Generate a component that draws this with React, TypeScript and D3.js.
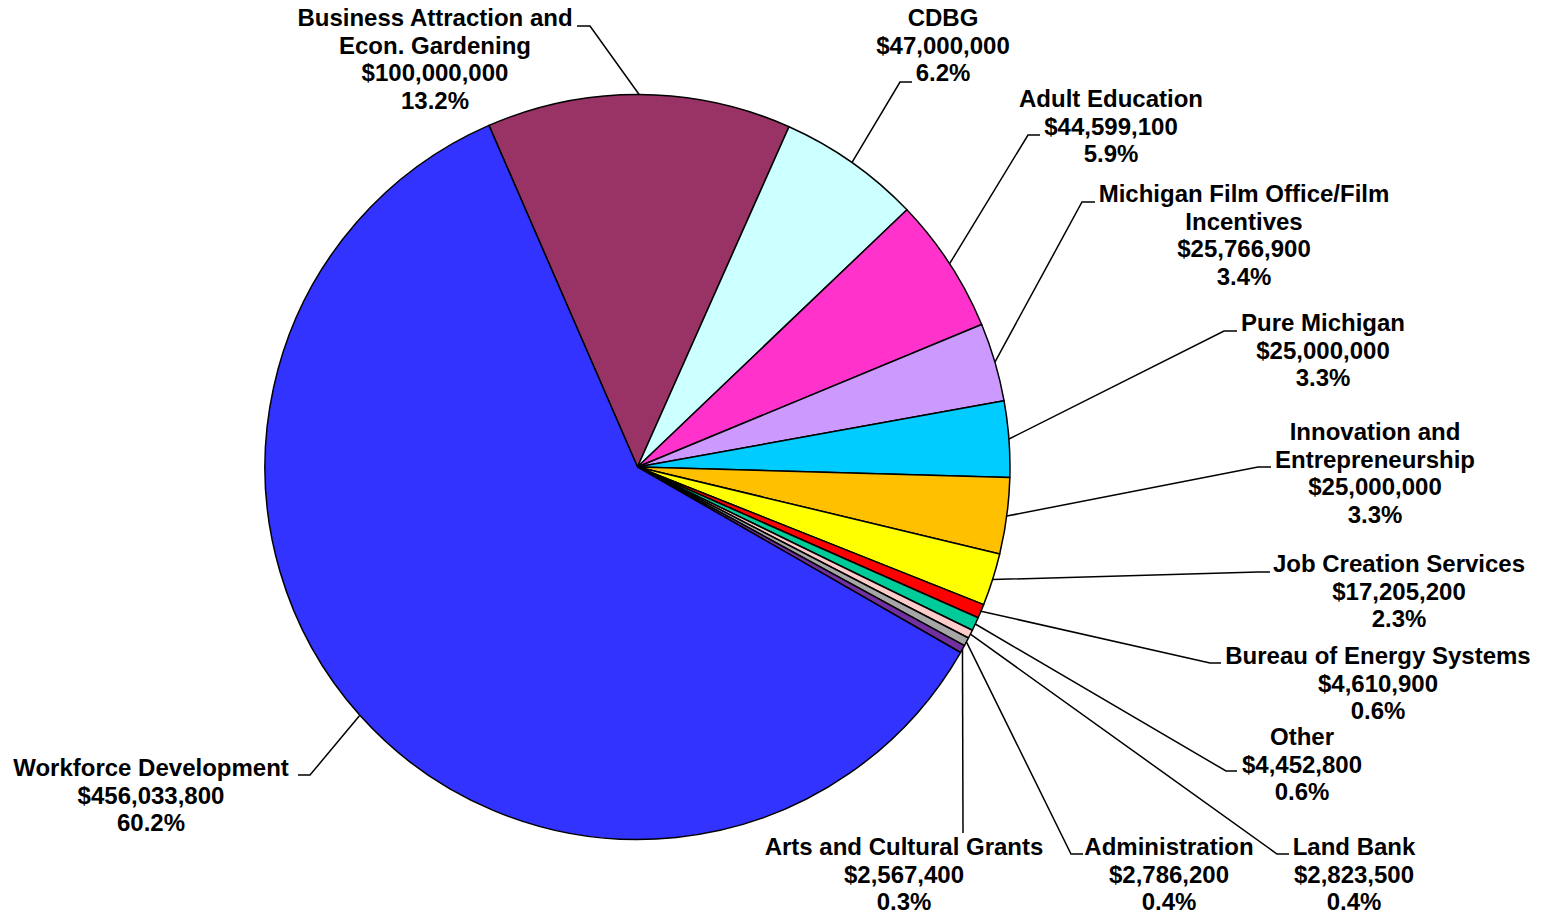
import React from "react";
import * as d3 from "d3";

const categories = [
  "Business Attraction and\nEcon. Gardening",
  "CDBG",
  "Adult Education",
  "Michigan Film Office/Film\nIncentives",
  "Pure Michigan",
  "Innovation and\nEntrepreneurship",
  "Job Creation Services",
  "Bureau of Energy Systems",
  "Other",
  "Land Bank",
  "Administration",
  "Arts and Cultural Grants",
  "Workforce Development",
];

const values = [
  100000000, 47000000, 44599100, 25766900, 25000000, 25000000, 17205200,
  4610900, 4452800, 2823500, 2786200, 2567400, 456033800,
];

const colors = [
  "#993366", "#CCFFFF", "#FF33CC", "#CC99FF", "#00CCFF", "#FFC000", "#FFFF00",
  "#FF0000", "#00CC99", "#FFCCCC", "#A6A6A6", "#7030A0", "#3333FF",
];

// label layout: text center x, first baseline y, leader elbow (ex, ey), leader end x
const labelLayout = [
  { cx: 435, by: 26, ex: 590, ey: 26, hx: 577 },
  { cx: 943, by: 26, ex: 900, ey: 82, hx: 912 },
  { cx: 1111, by: 107, ex: 1028, ey: 135, hx: 1040 },
  { cx: 1244, by: 202, ex: 1082, ey: 202, hx: 1095 },
  { cx: 1323, by: 331, ex: 1224, ey: 331, hx: 1237 },
  { cx: 1375, by: 440, ex: 1258, ey: 467, hx: 1271 },
  { cx: 1399, by: 572, ex: 1258, ey: 572, hx: 1270 },
  { cx: 1378, by: 664, ex: 1210, ey: 663, hx: 1221 },
  { cx: 1302, by: 745, ex: 1226, ey: 771, hx: 1237 },
  { cx: 1354, by: 855, ex: 1277, ey: 854, hx: 1289 },
  { cx: 1169, by: 855, ex: 1071, ey: 854, hx: 1083 },
  { cx: 904, by: 855, ex: 963, ey: 833, hx: 963 },
  { cx: 151, by: 776, ex: 310, ey: 775, hx: 298 },
];

const W = 1543;
const H = 914;
const CX = 637.5;
const CY = 467;
const R = 372.5;
const LINE = 27.5;

export default function App() {
  const total = d3.sum(values);
  const start = (-23.5 * Math.PI) / 180;
  const pie = d3
    .pie<number>()
    .sort(null)
    .startAngle(start)
    .endAngle(start + 2 * Math.PI)
    .value((d) => d);
  const arcs = pie(values);
  const arcGen = d3.arc<d3.PieArcDatum<number>>().innerRadius(0).outerRadius(R);
  const money = d3.format("$,");
  const pct = d3.format(".1%");

  return (
    <svg
      width={W}
      height={H}
      style={{ position: "absolute", left: 0, top: 0, display: "block", background: "#fff" }}
    >
      <g transform={`translate(${CX},${CY})`}>
        {arcs.map((a, i) => (
          <path
            key={i}
            d={arcGen(a) || ""}
            fill={colors[i]}
            stroke="#000"
            strokeWidth={1.5}
            strokeLinejoin="round"
          />
        ))}
      </g>
      {arcs.map((a, i) => {
        const mid = (a.startAngle + a.endAngle) / 2;
        const px = CX + Math.sin(mid) * R;
        const py = CY - Math.cos(mid) * R;
        const L = labelLayout[i];
        const pts: [number, number][] = [
          [px, py],
          [L.ex, L.ey],
          [L.hx, L.ey],
        ];
        return (
          <path
            key={"l" + i}
            d={d3.line()(pts) || ""}
            fill="none"
            stroke="#000"
            strokeWidth={1.5}
          />
        );
      })}
      {arcs.map((a, i) => {
        const L = labelLayout[i];
        const lines = [
          ...categories[i].split("\n"),
          money(values[i]),
          pct(values[i] / total),
        ];
        return (
          <text
            key={"t" + i}
            textAnchor="middle"
            fontFamily="'Liberation Sans', Arial, sans-serif"
            fontWeight="bold"
            fontSize={24}
            fill="#000"
          >
            {lines.map((s, j) => (
              <tspan key={j} x={L.cx} y={L.by + j * LINE}>
                {s}
              </tspan>
            ))}
          </text>
        );
      })}
    </svg>
  );
}
